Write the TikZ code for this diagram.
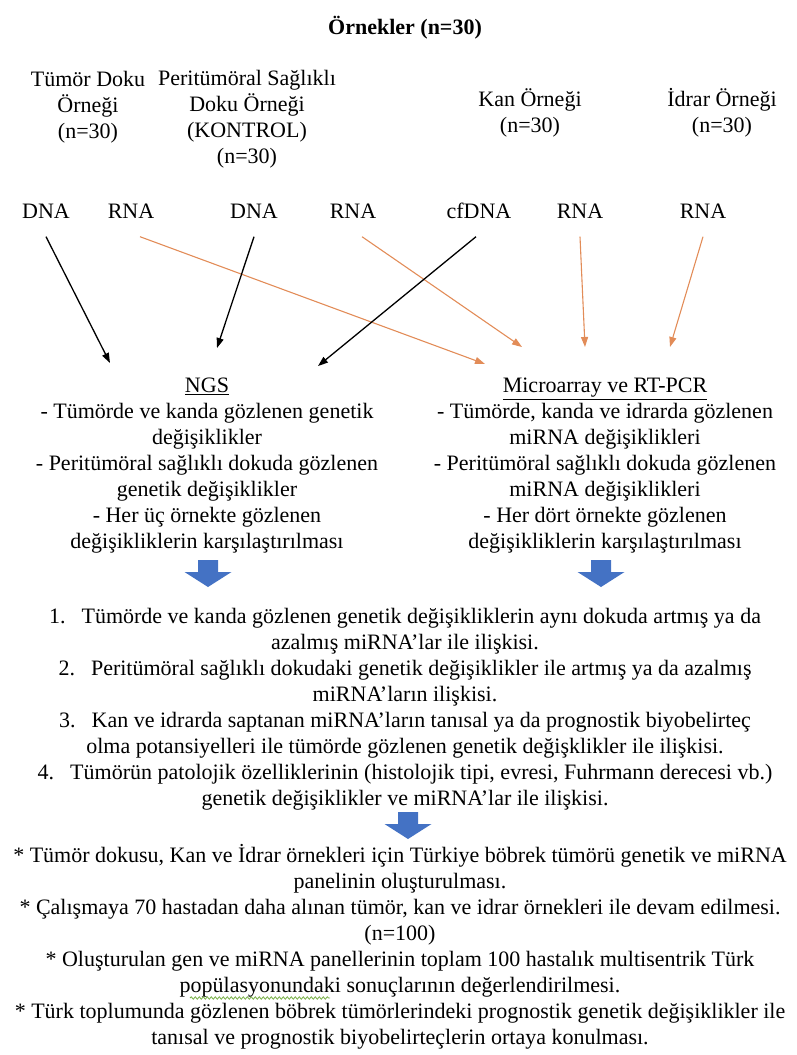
\documentclass[tikz,border=0pt]{standalone}
\usepackage{fontspec}
\setmainfont{Liberation Serif}
\usetikzlibrary{arrows.meta,decorations.pathmorphing}

\definecolor{rnaorange}{RGB}{226,140,88}
\definecolor{blockblue}{RGB}{68,114,196}
\definecolor{spellgreen}{RGB}{120,175,70}

\begin{document}
\begin{tikzpicture}[
    x=1pt, y=-1pt,
    txt/.style={
        inner sep=0pt,
        align=center,
        font=\fontsize{22}{26}\selectfont
    },
    mol/.style={
        txt,
        text height=16pt,
        text depth=5pt,
        inner ysep=13pt
    },
    blackarrow/.style={
        -{Triangle[length=10pt,width=7pt]},
        line width=1.3pt
    },
    orangearrow/.style={
        -{Triangle[length=10pt,width=7pt]},
        line width=1.1pt,
        rnaorange
    },
    bluedown/.pic={
        \fill[blockblue] (-10,0) -- (10,0) -- (10,12) -- (23.5,12)
            -- (0,27) -- (-23.5,12) -- (-10,12) -- cycle;
    }
]
\useasboundingbox (0,0) rectangle (797,1055);

\node[txt, font=\fontsize{22}{26}\selectfont\bfseries] (title) at (405,28)
{Örnekler (n=30)};

% samples
\node[txt] (tumor) at (88,107) {Tümör Doku\\Örneği\\(n=30)};
\node[txt] (peri) at (247,119)
{Peritümöral Sağlıklı\\Doku Örneği\\(KONTROL)\\(n=30)};
\node[txt] (kan) at (530,113) {Kan Örneği\\(n=30)};
\node[txt] (idrar) at (722,113) {İdrar Örneği\\(n=30)};

% nucleic acids
\node[mol] (dnaT) at (46,213) {DNA};
\node[mol] (rnaT) at (131,213) {RNA};
\node[mol] (dnaP) at (254,213) {DNA};
\node[mol] (rnaP) at (353,213) {RNA};
\node[mol] (cfdna) at (479,213) {cfDNA};
\node[mol] (rnaK) at (580,213) {RNA};
\node[mol] (rnaI) at (703,213) {RNA};

\coordinate (ngsEnd1) at (110,363);
\coordinate (ngsEnd2) at (217,348);
\coordinate (ngsEnd3) at (318,366);
\coordinate (micEnd1) at (485,364);
\coordinate (micEnd2) at (522,347);
\coordinate (micEnd3) at (585,347);
\coordinate (micEnd4) at (670,347);

\draw[orangearrow] ([xshift=9pt]rnaT.south) -- (micEnd1);
\draw[orangearrow] ([xshift=9pt]rnaP.south) -- (micEnd2);
\draw[orangearrow] (rnaK.south) -- (micEnd3);
\draw[orangearrow] (rnaI.south) -- (micEnd4);
\draw[blackarrow] (dnaT.south) -- (ngsEnd1);
\draw[blackarrow] (dnaP.south) -- (ngsEnd2);
\draw[blackarrow] ([xshift=-3pt]cfdna.south) -- (ngsEnd3);

% methods
\node[txt] (ngs) at (207,466)
{\underline{NGS}\\
- Tümörde ve kanda gözlenen genetik\\
değişiklikler\\
- Peritümöral sağlıklı dokuda gözlenen\\
genetik değişiklikler\\
- Her üç örnekte gözlenen\\
değişikliklerin karşılaştırılması};

\node[txt] (micro) at (605,466)
{\underline{Microarray ve RT-PCR}\\
- Tümörde, kanda ve idrarda gözlenen\\
miRNA değişiklikleri\\
- Peritümöral sağlıklı dokuda gözlenen\\
miRNA değişiklikleri\\
- Her dört örnekte gözlenen\\
değişikliklerin karşılaştırılması};

\pic at (208,560) {bluedown};
\pic at (601,560) {bluedown};

% analyses
\node[txt] (links) at (405,709)
{1.\hspace{16pt}Tümörde ve kanda gözlenen genetik değişikliklerin aynı dokuda artmış ya da\\
azalmış miRNA’lar ile ilişkisi.\\
2.\hspace{16pt}Peritümöral sağlıklı dokudaki genetik değişiklikler ile artmış ya da azalmış\\
miRNA’ların ilişkisi.\\
3.\hspace{16pt}Kan ve idrarda saptanan miRNA’ların tanısal ya da prognostik biyobelirteç\\
olma potansiyelleri ile tümörde gözlenen genetik değişklikler ile ilişkisi.\\
4.\hspace{16pt}Tümörün patolojik özelliklerinin (histolojik tipi, evresi, Fuhrmann derecesi vb.)\\
genetik değişiklikler ve miRNA’lar ile ilişkisi.};

\pic at (408,812) {bluedown};

% outcomes
\node[txt] (outcome) at (400,947)
{* Tümör dokusu, Kan ve İdrar örnekleri için Türkiye böbrek tümörü genetik ve miRNA\\
panelinin oluşturulması.\\
* Çalışmaya 70 hastadan daha alınan tümör, kan ve idrar örnekleri ile devam edilmesi.\\
(n=100)\\
* Oluşturulan gen ve miRNA panellerinin toplam 100 hastalık multisentrik Türk\\
popülasyonundaki sonuçlarının değerlendirilmesi.\\
* Türk toplumunda gözlenen böbrek tümörlerindeki prognostik genetik değişiklikler ile\\
tanısal ve prognostik biyobelirteçlerin ortaya konulması.};

% spell-check mark
\draw[spellgreen, line width=0.8pt,
    decorate, decoration={snake, segment length=4pt, amplitude=1.2pt}]
    (190,998) -- (330,998);

\end{tikzpicture}
\end{document}
